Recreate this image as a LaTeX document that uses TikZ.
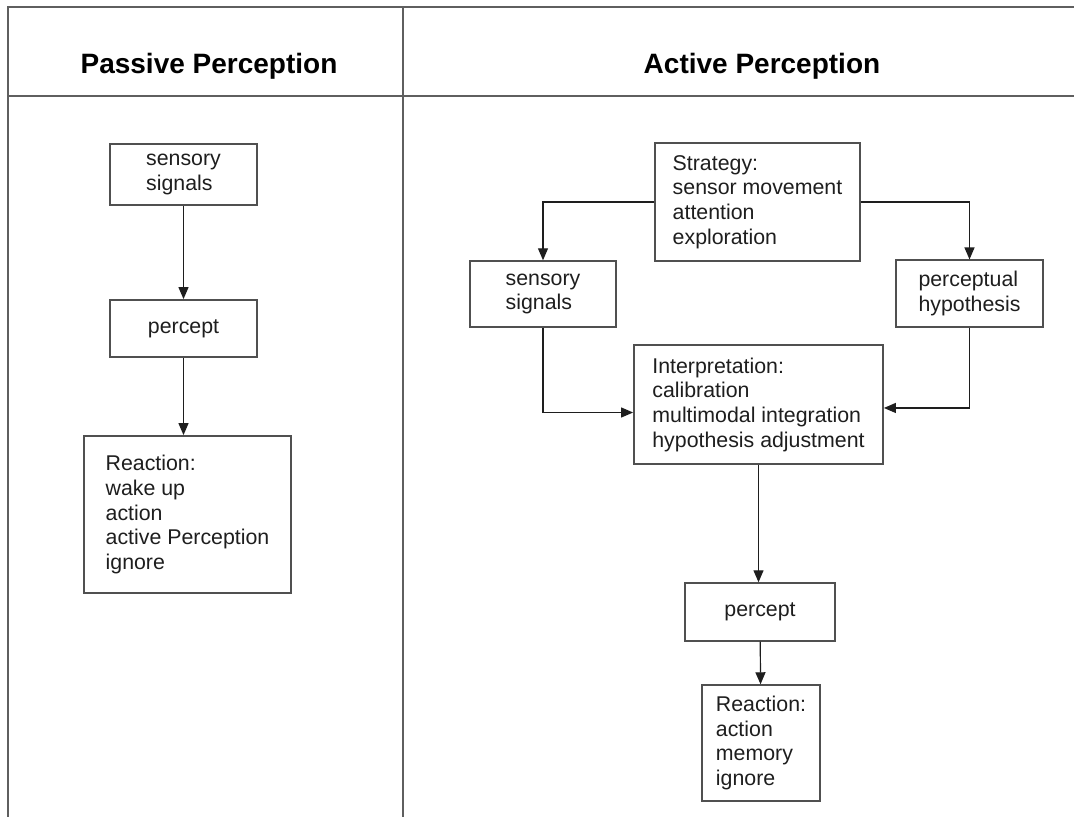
\documentclass[tikz,border=0pt]{standalone}
\usepackage{fontspec}
\setmainfont{Liberation Sans}
\usepackage{tikz}
\usetikzlibrary{arrows.meta, positioning, calc}
\usepackage{xcolor}
\definecolor{framegray}{RGB}{95,95,95}
\definecolor{boxgray}{RGB}{80,80,80}
\definecolor{inkgray}{RGB}{30,30,30}

\begin{document}
\begin{tikzpicture}[
    x=0.75pt, y=-0.75pt,
    box/.style={rectangle, draw=boxgray, line width=1.1pt, fill=white, align=left,
                text=inkgray, font=\fontsize{16}{18.5}\selectfont, inner sep=2pt},
    head/.style={font=\fontsize{21}{24}\selectfont\bfseries, text=black, anchor=base},
    arr/.style={-{Triangle[length=9pt, width=7.5pt]}, line width=0.9pt, inkgray},
    frame/.style={draw=framegray, line width=1pt},
]
    \useasboundingbox[fill=white] (0,0) rectangle (1074,817);

    % table frame
    \draw[frame] (8,817) -- (8,7) -- (1074,7);
    \draw[frame] (8,96) -- (1074,96);
    \draw[frame] (403,7) -- (403,817);

    \node[head] (hpass) at (209,74) {Passive Perception};
    \node[head] (hact)  at (762,74) {Active Perception};

    % passive side
    \node[box, minimum width=110pt, minimum height=46pt] (lsens) at (183.5,174.5) {sensory\\signals};
    \node[box, minimum width=110pt, minimum height=43pt] (lperc) at (183.5,328.5) {percept};
    \node[box, minimum width=155pt, minimum height=118pt] (lreac) at (187.5,514.5)
        {Reaction:\\wake up\\action\\active Perception\\ignore};

    \draw[arr] (lsens) -- (lperc);
    \draw[arr] (lperc.south) -- (lperc.south |- lreac.north);

    % active side
    \node[box, minimum width=154pt, minimum height=88.5pt] (strat) at (757.5,202)
        {Strategy:\\sensor movement\\attention\\exploration};
    \node[box, minimum width=109.5pt, minimum height=49.5pt] (rsens) at (543,294) {sensory\\signals};
    \node[box, minimum width=110pt, minimum height=50pt] (hyp) at (969.5,293.5) {perceptual\\hypothesis};
    \node[box, minimum width=187pt, minimum height=89pt] (interp) at (758.5,404.5)
        {Interpretation:\\calibration\\multimodal integration\\hypothesis adjustment};
    \node[box, minimum width=112.5pt, minimum height=43.5pt] (rperc) at (760,612) {percept};
    \node[box, minimum width=88.5pt, minimum height=87pt] (rreac) at (761,743)
        {Reaction:\\action\\memory\\ignore};

    \draw[arr] (strat.west) -| (rsens.north);
    \draw[arr] (strat.east) -| (hyp.north);
    \draw[arr] (rsens.south) |- ([yshift=-6pt]interp.west);
    \draw[arr] (hyp.south) |- ([yshift=-2.6pt]interp.east);
    \draw[arr] (interp.south) -- (interp.south |- rperc.north);
    \draw[arr] (rperc) -- (rreac);
\end{tikzpicture}
\end{document}
